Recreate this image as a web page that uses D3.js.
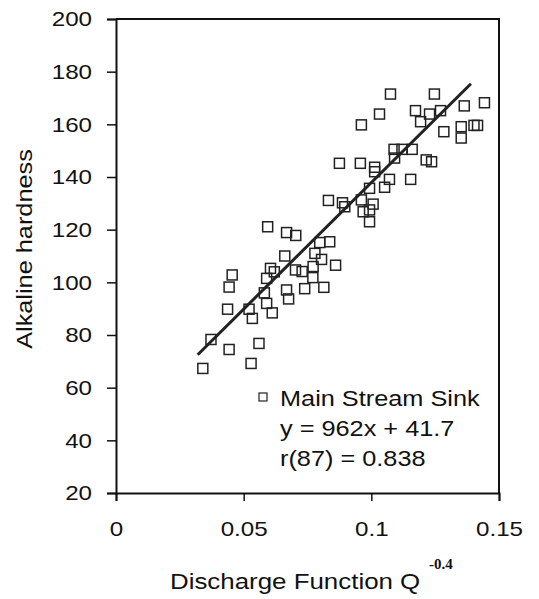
<!DOCTYPE html>
<html>
<head>
<meta charset="utf-8">
<script src="https://cdn.jsdelivr.net/npm/d3@7"></script>
<style>
  body { margin: 0; background: #fff; }
  svg { font-family: "Liberation Sans", Arial, sans-serif; }
</style>
</head>
<body>
<div id="chart"></div>
<script>
// discharge function values (x) and alkaline hardness (y)
const xVals = [0.0340, 0.0372, 0.0443, 0.0529, 0.0560, 0.0437, 0.0521, 0.0534, 0.0443, 0.0455,
  0.0594, 0.0605, 0.0620, 0.0590, 0.0581, 0.0590, 0.0612, 0.0661, 0.0668, 0.0676,
  0.0668, 0.0704, 0.0703, 0.0729, 0.0739, 0.0771, 0.0772, 0.0779, 0.0805, 0.0814,
  0.0798, 0.0837, 0.0860, 0.0832, 0.0887, 0.0896, 0.0875, 0.0957, 0.0961, 0.0961,
  0.0968, 0.0993, 0.1007, 0.0993, 0.0993, 0.1052, 0.1071, 0.1154, 0.1013, 0.1013,
  0.1089, 0.1120, 0.1160, 0.1091, 0.1215, 0.1236, 0.1075, 0.1247, 0.1032, 0.1173,
  0.1228, 0.1271, 0.1193, 0.1364, 0.1443, 0.1284, 0.1352, 0.1402, 0.1416, 0.1352];
const yVals = [67.3, 78.3, 74.5, 69.2, 76.8, 89.8, 89.8, 86.3, 98.2, 102.8,
  121.1, 105.3, 104.0, 101.5, 96.0, 92.0, 88.4, 110.0, 97.1, 93.7,
  118.9, 117.8, 104.7, 104.1, 97.6, 101.8, 106.0, 111.0, 108.7, 98.1,
  115.1, 115.4, 106.5, 131.1, 130.2, 128.7, 145.2, 145.2, 159.8, 131.3,
  126.8, 127.5, 129.7, 123.0, 135.7, 136.1, 139.1, 139.1, 143.7, 142.0,
  150.5, 150.5, 150.5, 147.2, 146.5, 145.8, 171.5, 171.5, 163.9, 165.2,
  163.9, 165.2, 161.0, 167.0, 168.2, 157.2, 159.1, 159.6, 159.6, 154.8];

// fitted line y = 962x + 41.7 over the data range
const slope = 962;
const intercept = 41.7;
const fitRange = [0.032, 0.139];

const xTicks = [0, 0.05, 0.1, 0.15];
const yTicks = [20, 40, 60, 80, 100, 120, 140, 160, 180, 200];
const legendLines = ["Main Stream Sink", "y = 962x + 41.7", "r(87) = 0.838"];

const width = 539, height = 599;
const margin = { top: 19, right: 40, bottom: 106, left: 116 };
const stretch = 1.15; // text in the picture is a bit wider than normal

const svg = d3.select("#chart").append("svg")
    .attr("width", width)
    .attr("height", height);

const x = d3.scaleLinear().domain([0, 0.15]).range([margin.left, width - margin.right]);
const y = d3.scaleLinear().domain([20, 200]).range([height - margin.bottom, margin.top]);

// widen text horizontally, keeping its anchor point where it was
function widen(sel) {
    sel.each(function () {
        const t = d3.select(this);
        const w = this.getComputedTextLength();
        const anchor = t.attr("text-anchor") || getComputedStyle(this).textAnchor || "start";
        const x0 = +(t.attr("x") || 0);
        const W = w * stretch;
        let xs = x0;
        if (anchor === "end") xs = x0 - W;
        else if (anchor === "middle") xs = x0 - W / 2;
        t.attr("text-anchor", "start").style("text-anchor", "start")
            .attr("x", xs)
            .attr("textLength", W)
            .attr("lengthAdjust", "spacingAndGlyphs");
    });
}

// frame (top and right)
svg.append("path")
    .attr("d", `M${x(0)},${y(200)}H${x(0.15)}V${y(20)}`)
    .attr("fill", "none")
    .attr("stroke", "#111")
    .attr("stroke-width", 2);

// axes
const xAxis = svg.append("g")
    .attr("transform", `translate(0,${y(20)})`)
    .call(d3.axisBottom(x).tickValues(xTicks).tickFormat(d => String(d)).tickSize(8).tickPadding(20));
const yAxis = svg.append("g")
    .attr("transform", `translate(${x(0)},0)`)
    .call(d3.axisLeft(y).tickValues(yTicks).tickSize(9).tickPadding(15));

xAxis.attr("text-anchor", null).selectAll(".tick text").attr("text-anchor", "middle");
yAxis.attr("text-anchor", null).selectAll(".tick text").attr("text-anchor", "end");

[xAxis, yAxis].forEach(g => {
    g.select(".domain").attr("stroke", "#111").attr("stroke-width", 2);
    g.selectAll(".tick line").attr("stroke", "#111").attr("stroke-width", 1.5);
    g.selectAll(".tick text")
        .attr("fill", "#111")
        .style("font-size", "21px")
        .style("font-family", "'Liberation Sans', Arial, sans-serif")
        .call(widen);
});

// regression line
svg.append("line")
    .attr("x1", x(fitRange[0]))
    .attr("y1", y(slope * fitRange[0] + intercept))
    .attr("x2", x(fitRange[1]))
    .attr("y2", y(slope * fitRange[1] + intercept))
    .attr("stroke", "#222")
    .attr("stroke-width", 3);

// points
const pts = xVals.map((v, i) => ({ x: v, y: yVals[i] }));
svg.selectAll(".pt")
    .data(pts)
    .enter().append("rect")
    .attr("class", "pt")
    .attr("x", d => x(d.x) - 5)
    .attr("y", d => y(d.y) - 5)
    .attr("width", 10)
    .attr("height", 10)
    .attr("fill", "none")
    .attr("stroke", "#222")
    .attr("stroke-width", 1.5);

// legend / stats box
const leg = svg.append("g");
leg.append("rect")
    .attr("x", 259)
    .attr("y", 393)
    .attr("width", 8)
    .attr("height", 8)
    .attr("fill", "#fff")
    .attr("stroke", "#222")
    .attr("stroke-width", 1.2);
leg.selectAll("text")
    .data(legendLines)
    .enter().append("text")
    .attr("x", 280)
    .attr("y", (d, i) => 406 + i * 30)
    .attr("fill", "#111")
    .style("font-size", "22px")
    .text(d => d)
    .call(widen);

// axis titles
svg.append("text")
    .attr("x", 170)
    .attr("y", 589)
    .attr("fill", "#111")
    .style("font-size", "22.5px")
    .text("Discharge Function Q")
    .call(widen);
svg.append("text")
    .attr("x", 429)
    .attr("y", 569)
    .attr("fill", "#111")
    .style("font-family", "'Liberation Serif', 'Times New Roman', serif")
    .style("font-weight", "bold")
    .style("font-size", "15px")
    .text("-0.4");

svg.append("g")
    .attr("transform", `translate(32,249) rotate(-90)`)
    .append("text")
    .attr("text-anchor", "middle")
    .attr("fill", "#111")
    .style("font-size", "22px")
    .text("Alkaline hardness")
    .call(widen);
</script>
</body>
</html>
